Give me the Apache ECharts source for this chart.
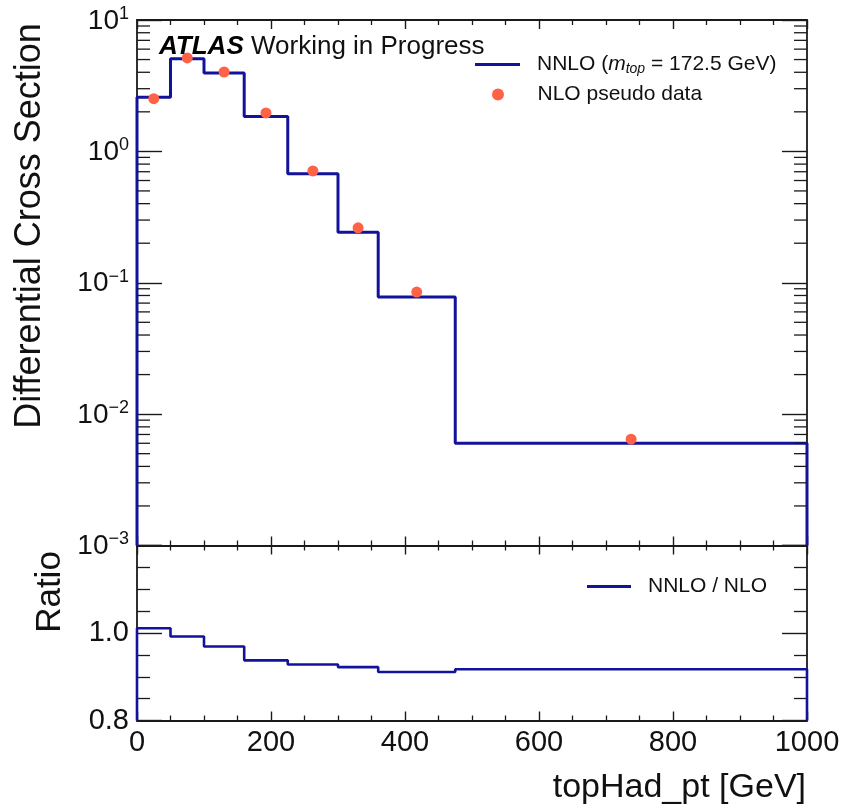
<!DOCTYPE html>
<html>
<head>
<meta charset="utf-8">
<script src="https://cdn.jsdelivr.net/npm/echarts@6/dist/echarts.min.js"></script>
<style>
html,body{margin:0;padding:0;background:#fff;}
#chart{width:848px;height:811px;}
</style>
</head>
<body>
<div id="chart"></div>
<script>
// ---- data ----
const binEdges = [0, 50, 100, 160, 225, 300, 360, 475, 1000];
const nnloValues = [2.58, 5.08, 3.95, 1.84, 0.676, 0.242, 0.078, 0.00601];
const pseudoCenters = [25, 75, 130, 192.5, 262.5, 330, 417.5, 737.5];
const pseudoValues = [2.52, 5.14, 4.02, 1.96, 0.71, 0.262, 0.085, 0.00645];
const ratioValues = [1.011, 0.992, 0.969, 0.9375, 0.928, 0.922, 0.911, 0.917];
const xRange = [0, 1000];
const yMainRange = [0.001, 10];
const yRatioRange = [0.8, 1.2];
const logDecades = [-3, -2, -1, 0];
const logMinorMultipliers = [2, 3, 4, 5, 6, 7, 8, 9];

// ---- helpers ----
function stepData(edges, vals, floor) {
  const d = [[edges[0], floor]];
  for (let i = 0; i < vals.length; i++) d.push([edges[i], vals[i]]);
  d.push([edges[edges.length - 1], vals[vals.length - 1]]);
  d.push([edges[edges.length - 1], floor]);
  return d;
}
const minorLogTicks = [];
logDecades.forEach(k => logMinorMultipliers.forEach(m => minorLogTicks.push([xRange[0], m * Math.pow(10, k)])));

const FONT = 'Liberation Sans';
const INK = '#1a1a1a';
const BLUE = '#12129a';
const ORANGE = '#ff6347';

const chart = echarts.init(document.getElementById('chart'), null, {renderer: 'canvas'});

const gridMain = {left: 137, right: 41, top: 20, height: 525.5};
const gridRatio = {left: 137, right: 41, top: 545.5, height: 175};

function xAxisCfg(gridIndex, position, showLabels) {
  return {
    type: 'value', gridIndex, position, min: xRange[0], max: xRange[1], interval: 200,
    axisLine: {show: true, onZero: false, lineStyle: {color: INK, width: 1.8}},
    axisTick: {show: true, inside: true, length: 9, lineStyle: {color: INK, width: 1.4}},
    minorTick: {show: true, splitNumber: 4, length: 5, lineStyle: {color: INK, width: 1.3}},
    splitLine: {show: false}, minorSplitLine: {show: false},
    axisLabel: showLabels ? {show: true, fontFamily: FONT, fontSize: 29, color: '#111', margin: 8,
      formatter: function (v) { return String(v); }} : {show: false}
  };
}

const option = {
  animation: false,
  backgroundColor: '#fff',
  grid: [gridMain, gridRatio],
  xAxis: [
    xAxisCfg(0, 'bottom', false),
    xAxisCfg(0, 'top', false),
    xAxisCfg(1, 'bottom', true),
    xAxisCfg(1, 'top', false)
  ],
  yAxis: [
    {
      type: 'log', logBase: 10, gridIndex: 0, position: 'left', min: yMainRange[0], max: yMainRange[1],
      axisLine: {show: true, onZero: false, lineStyle: {color: INK, width: 1.8}},
      axisTick: {show: true, inside: true, length: 25, lineStyle: {color: INK, width: 1.4}},
      splitLine: {show: false},
      axisLabel: {
        show: true, margin: 8,
        formatter: function (v) {
          const e = Math.round(Math.log10(v));
          return '{b|10}{s|' + (e < 0 ? '\u2212' + (-e) : e) + '}';
        },
        rich: {
          b: {fontFamily: FONT, fontSize: 28, color: '#111', lineHeight: 30, verticalAlign: 'bottom'},
          s: {fontFamily: FONT, fontSize: 18, color: '#111', lineHeight: 18, verticalAlign: 'top'}
        }
      }
    },
    {
      type: 'log', logBase: 10, gridIndex: 0, position: 'right', min: yMainRange[0], max: yMainRange[1],
      axisLine: {show: true, onZero: false, lineStyle: {color: INK, width: 1.8}},
      axisTick: {show: true, inside: true, length: 25, lineStyle: {color: INK, width: 1.4}},
      splitLine: {show: false}, axisLabel: {show: false}
    },
    {
      type: 'value', gridIndex: 1, position: 'left', min: yRatioRange[0], max: yRatioRange[1], interval: 0.2,
      axisLine: {show: true, onZero: false, lineStyle: {color: INK, width: 1.8}},
      axisTick: {show: true, inside: true, length: 25, lineStyle: {color: INK, width: 1.4}},
      minorTick: {show: true, splitNumber: 4, length: 13, lineStyle: {color: INK, width: 1.3}},
      splitLine: {show: false}, minorSplitLine: {show: false},
      axisLabel: {
        show: true, fontFamily: FONT, fontSize: 29, color: '#111', margin: 8,
        formatter: function (v) { return v > 1.1 ? '' : v.toFixed(1); }
      }
    },
    {
      type: 'value', gridIndex: 1, position: 'right', min: yRatioRange[0], max: yRatioRange[1], interval: 0.2,
      axisLine: {show: true, onZero: false, lineStyle: {color: INK, width: 1.8}},
      axisTick: {show: true, inside: true, length: 25, lineStyle: {color: INK, width: 1.4}},
      minorTick: {show: true, splitNumber: 4, length: 13, lineStyle: {color: INK, width: 1.3}},
      splitLine: {show: false}, axisLabel: {show: false}
    }
  ],
  legend: [
    {
      show: true, left: 475, top: 54, padding: 0, selectedMode: false,
      itemWidth: 45, itemHeight: 3, icon: 'rect',
      data: [{name: 'NNLO', icon: 'rect'}],
      formatter: function () { return '{n|NNLO (}{i|m}{s|top}{n| = 172.5 GeV)}'; },
      textStyle: {
        padding: [0, 0, 0, 12],
        rich: {
          n: {fontFamily: FONT, fontSize: 21, color: '#111', lineHeight: 24},
          i: {fontFamily: FONT, fontSize: 21, fontStyle: 'italic', color: '#111', lineHeight: 24},
          s: {fontFamily: FONT, fontSize: 14, fontStyle: 'italic', color: '#111', lineHeight: 14, verticalAlign: 'bottom'}
        }
      }
    },
    {
      show: true, left: 492, top: 84, padding: 0, selectedMode: false,
      itemWidth: 45, itemHeight: 12,
      data: [{name: 'NLO pseudo data', icon: 'circle', itemStyle: {color: ORANGE, opacity: 1}}],
      textStyle: {fontFamily: FONT, fontSize: 21, color: '#111', padding: [0, 0, 0, 12]}
    },
    {
      show: true, left: 587, top: 576, padding: 0, selectedMode: false,
      itemWidth: 44, itemHeight: 3,
      data: [{name: 'NNLO / NLO', icon: 'rect'}],
      textStyle: {fontFamily: FONT, fontSize: 21, color: '#111', padding: [0, 0, 0, 12]}
    }
  ],
  graphic: [
    {
      type: 'text', left: 159, top: 34, z: 100,
      style: {
        text: '{a|ATLAS}{b| Working in Progress}',
        rich: {
          a: {fontFamily: FONT, fontSize: 26, fontWeight: 'bold', fontStyle: 'italic', fill: '#000'},
          b: {fontFamily: FONT, fontSize: 26, fill: '#111'}
        }
      }
    },
    {
      type: 'text', x: 30, y: 226, rotation: Math.PI / 2, z: 100,
      style: {text: 'Differential Cross Section', fontFamily: FONT, fontSize: 36, fill: '#111', align: 'center', verticalAlign: 'middle'}
    },
    {
      type: 'text', x: 50, y: 592, rotation: Math.PI / 2, z: 100,
      style: {text: 'Ratio', fontFamily: FONT, fontSize: 35, fill: '#111', align: 'center', verticalAlign: 'middle'}
    },
    {
      type: 'text', x: 806, y: 788, z: 100,
      style: {text: 'topHad_pt [GeV]', fontFamily: FONT, fontSize: 34, fill: '#111', align: 'right', verticalAlign: 'middle'}
    }
  ],
  series: [
    {
      name: 'NNLO', type: 'line', xAxisIndex: 0, yAxisIndex: 0, step: 'end',
      data: stepData(binEdges, nnloValues, yMainRange[0]),
      showSymbol: false, symbol: 'none', color: BLUE,
      lineStyle: {color: BLUE, width: 3}, z: 3
    },
    {
      name: 'NLO pseudo data', type: 'scatter', xAxisIndex: 0, yAxisIndex: 0,
      data: pseudoCenters.map((x, i) => [x, pseudoValues[i]]),
      symbol: 'circle', symbolSize: 11, itemStyle: {color: ORANGE, opacity: 1}, color: ORANGE, z: 4
    },
    {
      name: 'logMinorTicks', type: 'custom', xAxisIndex: 0, yAxisIndex: 0, silent: true, z: 5, clip: false,
      data: minorLogTicks,
      renderItem: function (params, api) {
        const v = api.value(1);
        const pL = api.coord([xRange[0], v]);
        const pR = api.coord([xRange[1], v]);
        const st = {stroke: INK, lineWidth: 1.3};
        return {type: 'group', children: [
          {type: 'line', shape: {x1: pL[0], y1: pL[1], x2: pL[0] + 13, y2: pL[1]}, style: st},
          {type: 'line', shape: {x1: pR[0] - 13, y1: pR[1], x2: pR[0], y2: pR[1]}, style: st}
        ]};
      }
    },
    {
      name: 'NNLO / NLO', type: 'line', xAxisIndex: 2, yAxisIndex: 2, step: 'end',
      data: stepData(binEdges, ratioValues, yRatioRange[0]),
      showSymbol: false, symbol: 'none', color: BLUE,
      lineStyle: {color: BLUE, width: 2.6}, z: 3
    }
  ]
};
chart.setOption(option);
</script>
</body>
</html>
